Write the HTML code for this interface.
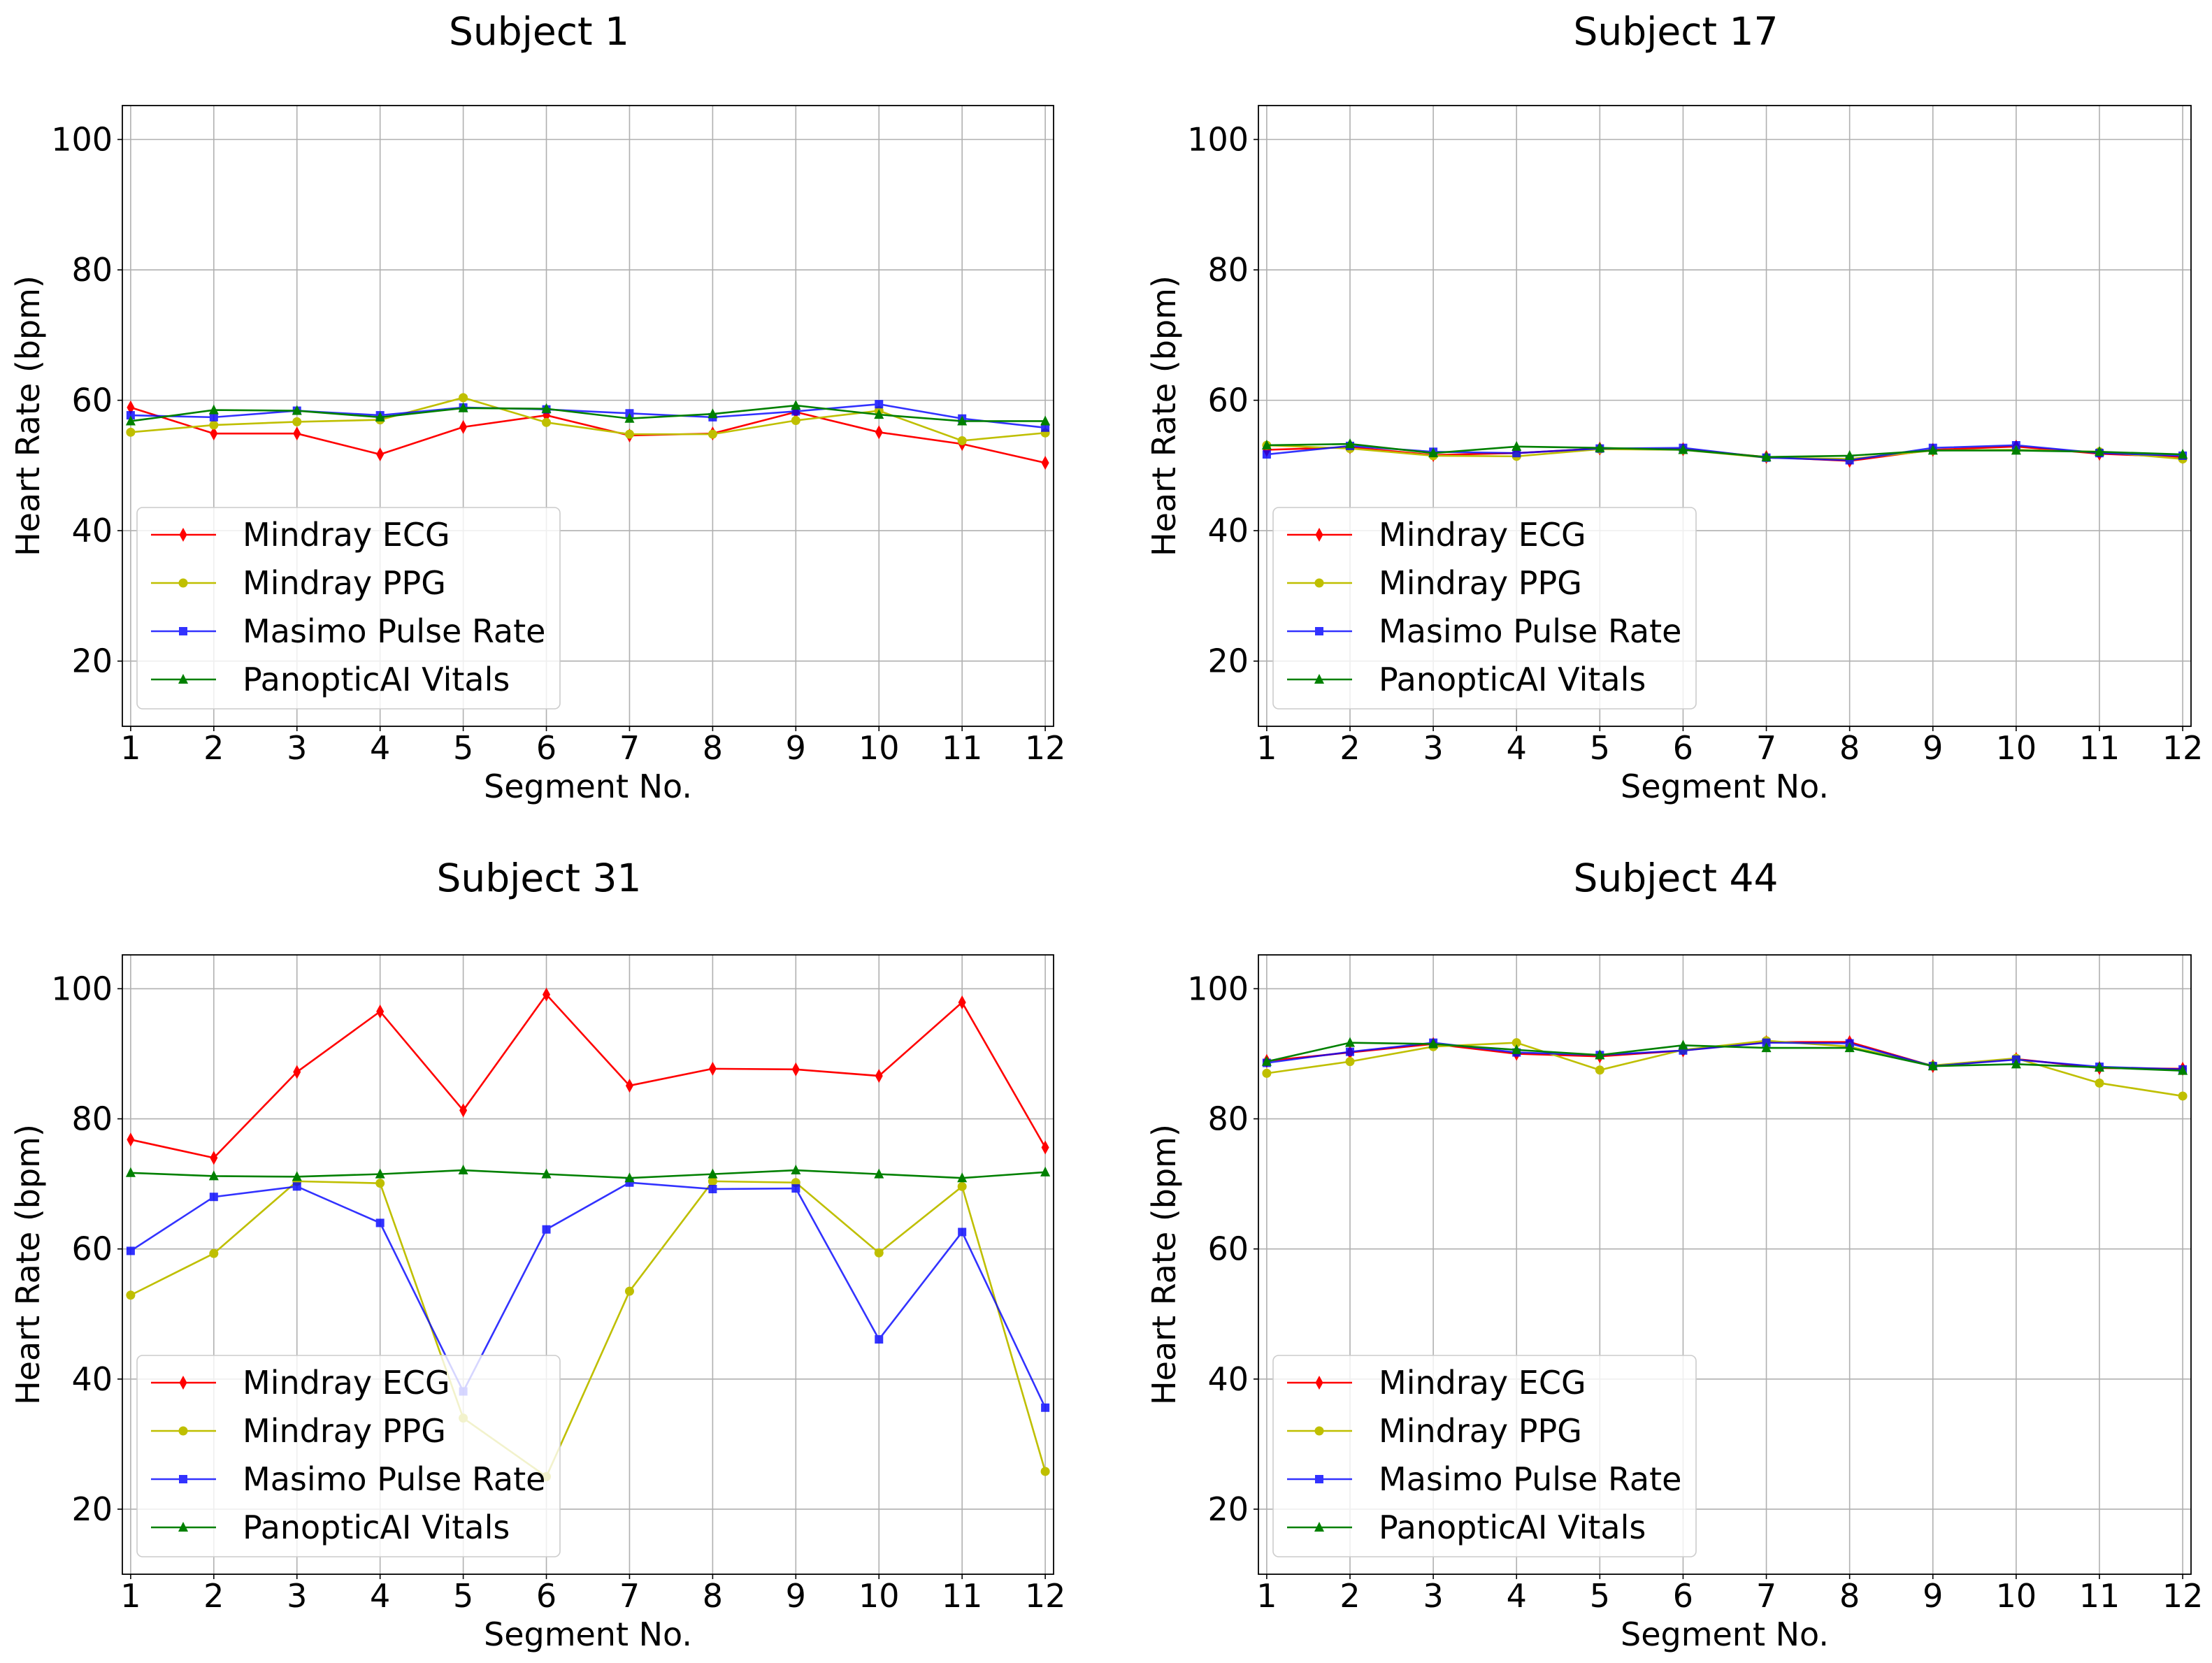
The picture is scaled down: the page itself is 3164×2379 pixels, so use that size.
<!DOCTYPE html>
<html><head><meta charset="utf-8">
<style>
html,body{margin:0;padding:0;background:#fff;}
svg{display:block;font-family:"DejaVu Sans","Liberation Sans",sans-serif;}
</style></head>
<body>
<svg id="fig" width="3164" height="2379" viewBox="0 0 3164 2379" xmlns="http://www.w3.org/2000/svg"></svg>
<script>
const segments = [1,2,3,4,5,6,7,8,9,10,11,12];
const yTicks = [20,40,60,80,100];
const seriesNames = ["Mindray ECG","Mindray PPG","Masimo Pulse Rate","PanopticAI Vitals"];
const subjectTitles = ["Subject 1","Subject 17","Subject 31","Subject 44"];

const s1_ecg = [58.9,54.9,54.9,51.7,55.9,57.7,54.6,54.9,58.2,55.1,53.3,50.4];
const s1_ppg = [55.1,56.2,56.7,57.0,60.4,56.6,54.8,54.8,56.9,58.4,53.8,55.0];
const s1_masimo = [57.7,57.4,58.4,57.7,58.9,58.6,58.0,57.4,58.3,59.4,57.2,55.8];
const s1_panoptic = [56.8,58.5,58.4,57.4,58.8,58.7,57.2,57.9,59.2,57.8,56.8,56.8];

const s17_ecg = [52.4,52.8,51.6,51.9,52.6,52.5,51.3,50.7,52.4,52.9,51.8,51.3];
const s17_ppg = [53.1,52.6,51.5,51.4,52.5,52.4,51.2,51.0,52.3,52.4,52.1,51.0];
const s17_masimo = [51.7,53.0,52.1,51.9,52.6,52.7,51.2,50.8,52.7,53.1,51.9,51.5];
const s17_panoptic = [53.1,53.3,51.9,52.9,52.7,52.4,51.3,51.5,52.3,52.3,52.1,51.7];

const s31_ecg = [76.8,74.0,87.2,96.5,81.3,99.1,85.1,87.7,87.6,86.6,97.9,75.6];
const s31_ppg = [52.9,59.3,70.4,70.1,34.0,25.0,53.5,70.4,70.2,59.4,69.6,25.8];
const s31_masimo = [59.7,68.0,69.6,64.0,38.1,63.0,70.2,69.2,69.3,46.1,62.6,35.6];
const s31_panoptic = [71.7,71.2,71.1,71.5,72.1,71.5,70.9,71.5,72.1,71.5,70.9,71.8];

const s44_ecg = [88.9,90.2,91.5,90.0,89.6,90.5,91.8,91.8,88.1,89.2,87.8,87.7];
const s44_ppg = [87.0,88.8,91.1,91.7,87.5,90.6,92.0,91.1,88.2,89.3,85.5,83.5];
const s44_masimo = [88.6,90.3,91.7,90.2,89.8,90.5,91.7,91.6,88.1,89.1,88.0,87.6];
const s44_panoptic = [88.8,91.7,91.5,90.6,89.8,91.3,90.9,90.9,88.1,88.4,87.9,87.4];

const NS = "http://www.w3.org/2000/svg";
const fig = document.getElementById('fig');
function mk(tag, attrs, parent){
  const e = document.createElementNS(NS, tag);
  for (const k in attrs) e.setAttribute(k, attrs[k]);
  (parent||fig).appendChild(e);
  return e;
}
const styles = [
  {color:"#ff0000", marker:"diamond", op:1},
  {color:"#bfbf00", marker:"circle", op:1},
  {color:"#0000ff", marker:"square", op:0.8},
  {color:"#008000", marker:"triangle", op:1}
];
function marker(g, type, cx, cy, color){
  let m;
  if (type==="diamond") m = mk('polygon',{points:`${cx},${cy-10} ${cx+5.5},${cy} ${cx},${cy+10} ${cx-5.5},${cy}`,fill:color},g);
  else if (type==="circle") m = mk('circle',{cx:cx,cy:cy,r:6.5,fill:color},g);
  else if (type==="square") m = mk('rect',{x:cx-6,y:cy-6,width:12,height:12,fill:color},g);
  else m = mk('polygon',{points:`${cx},${cy-8} ${cx+7},${cy+6} ${cx-7},${cy+6}`,fill:color},g);
  return m;
}
const panels = [
  {L:175,R:1507,T:151,B:1039,titleX:771,titleY:64,data:[s1_ecg,s1_ppg,s1_masimo,s1_panoptic]},
  {L:1800,R:3134,T:151,B:1039,titleX:2397,titleY:64,data:[s17_ecg,s17_ppg,s17_masimo,s17_panoptic]},
  {L:175,R:1507,T:1366,B:2252,titleX:771,titleY:1275,data:[s31_ecg,s31_ppg,s31_masimo,s31_panoptic]},
  {L:1800,R:3134,T:1366,B:2252,titleX:2397,titleY:1275,data:[s44_ecg,s44_ppg,s44_masimo,s44_panoptic]}
];
const xMin=0.9, xMax=12.1, yMin=10, yMax=105.2;
panels.forEach((p,pi)=>{
  const xs = v => p.L + (v-xMin)/(xMax-xMin)*(p.R-p.L);
  const ys = v => p.B - (v-yMin)/(yMax-yMin)*(p.B-p.T);
  const g = mk('g',{});
  
  
  const t = mk('text',{x:p.titleX,y:p.titleY,'text-anchor':'middle','font-size':55,fill:'#000'},g);
  t.textContent = subjectTitles[pi];
  
  
  // grid
  segments.forEach(s=>{
    const gl = mk('line',{x1:xs(s),x2:xs(s),y1:p.T,y2:p.B,stroke:'#b0b0b0','stroke-width':1.6},g);
    
    
    const tk = mk('line',{x1:xs(s),x2:xs(s),y1:p.B,y2:p.B+7,stroke:'#000','stroke-width':1.6},g);
    const lbl = mk('text',{x:xs(s),y:p.B+47,'text-anchor':'middle','font-size':46},g);
    lbl.textContent = s;
    
    
  });
  yTicks.forEach(v=>{
    const gl = mk('line',{x1:p.L,x2:p.R,y1:ys(v),y2:ys(v),stroke:'#b0b0b0','stroke-width':1.6},g);
    
    
    mk('line',{x1:p.L-7,x2:p.L,y1:ys(v),y2:ys(v),stroke:'#000','stroke-width':1.6},g);
    const lbl = mk('text',{x:p.L-14,y:ys(v)+16,'text-anchor':'end','font-size':46},g);
    lbl.textContent = v;
    
    
  });
  // series
  p.data.forEach((arr,si)=>{
    const st = styles[si];
    const sg = mk('g',{opacity:st.op},g);
    
    
    const pts = arr.map((v,i)=>xs(segments[i])+','+ys(v)).join(' ');
    mk('polyline',{points:pts,fill:'none',stroke:st.color,'stroke-width':2.6},sg);
    arr.forEach((v,i)=>{
      const m = marker(sg, st.marker, xs(segments[i]), ys(v), st.color);
      
      
    });
  });
  // spines
  const sp = mk('rect',{x:p.L,y:p.T,width:p.R-p.L,height:p.B-p.T,fill:'none',stroke:'#000','stroke-width':1.8},g);
  
  
  // axis labels
  const xl = mk('text',{x:(p.L+p.R)/2,y:p.B+102,'text-anchor':'middle','font-size':46},g);
  xl.textContent = 'Segment No.';
  
  
  const ycx = p.L-135, ycy=(p.T+p.B)/2;
  const yl = mk('text',{x:ycx,y:ycy,'text-anchor':'middle','dominant-baseline':'central','font-size':46,transform:`rotate(-90 ${ycx} ${ycy})`},g);
  yl.textContent = 'Heart Rate (bpm)';
  
  
  // legend
  const lx = p.L+21, lt = p.B-313;
  const lg = mk('g',{},g);
  
  
  mk('rect',{x:lx,y:lt,width:605,height:288,rx:8,fill:'#fff','fill-opacity':0.8,stroke:'#cccccc','stroke-width':1.6},lg);
  seriesNames.forEach((n,si)=>{
    const st = styles[si];
    const cy = lt+39+si*69;
    const eg = mk('g',{},lg);
    
    
    const seg = mk('g',{opacity:st.op},eg);
    mk('line',{x1:lx+20,x2:lx+113,y1:cy,y2:cy,stroke:st.color,'stroke-width':2.6},seg);
    marker(seg, st.marker, lx+66, cy, st.color);
    const tx = mk('text',{x:lx+151,y:cy+16,'font-size':46},eg);
    tx.textContent = n;
  });
});
</script>
</body></html>
